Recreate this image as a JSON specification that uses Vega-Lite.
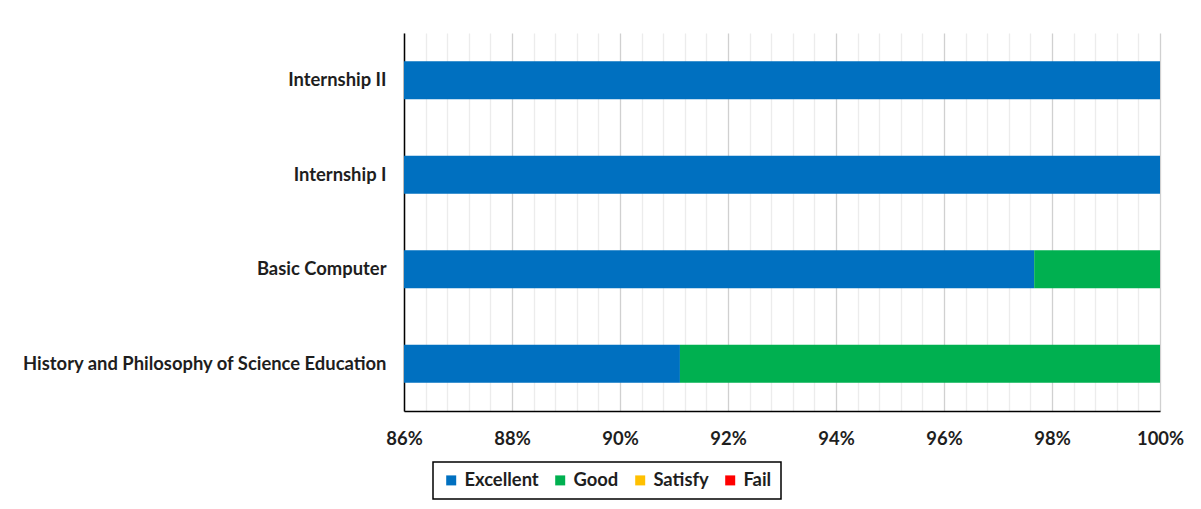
{
  "$schema": "https://vega.github.io/schema/vega-lite/v6.json",
  "width": 756,
  "height": 378,
  "autosize": {"type": "none"},
  "padding": {"left": 404, "top": 33, "right": 41, "bottom": 98},
  "background": "white",
  "config": {"view": {"stroke": null}, "font": "Lato", "legend": {"strokeWidth": 1.5}},
  "data": {
    "values": [
      {"course": "Internship II", "level": "Excellent", "share": 1.0, "rank": 1},
      {"course": "Internship I", "level": "Excellent", "share": 1.0, "rank": 1},
      {"course": "Basic Computer", "level": "Excellent", "share": 0.9767, "rank": 1},
      {"course": "Basic Computer", "level": "Good", "share": 0.0233, "rank": 2},
      {"course": "History and Philosophy of Science Education", "level": "Excellent", "share": 0.9111, "rank": 1},
      {"course": "History and Philosophy of Science Education", "level": "Good", "share": 0.0889, "rank": 2}
    ]
  },
  "mark": {"type": "bar", "clip": true},
  "encoding": {
    "y": {
      "field": "course",
      "type": "nominal",
      "sort": ["Internship II", "Internship I", "Basic Computer", "History and Philosophy of Science Education"],
      "scale": {"paddingInner": 0.6, "paddingOuter": 0.3},
      "axis": {
        "title": null,
        "ticks": false,
        "domainColor": "#000000",
        "domainWidth": 1.5,
        "labelFont": "Lato",
        "labelFontWeight": "bold",
        "labelFontSize": 18.4,
        "labelColor": "#1e1e1e",
        "labelPadding": 18,
        "labelLimit": 500
      }
    },
    "x": {
      "field": "share",
      "type": "quantitative",
      "stack": "zero",
      "scale": {"domain": [0.86, 1.0], "nice": false, "zero": false},
      "axis": {
        "title": null,
        "values": [0.86, 0.864, 0.868, 0.872, 0.876, 0.88, 0.884, 0.888, 0.892, 0.896, 0.9, 0.904, 0.908, 0.912, 0.916, 0.92, 0.924, 0.928, 0.932, 0.936, 0.94, 0.944, 0.948, 0.952, 0.956, 0.96, 0.964, 0.968, 0.972, 0.976, 0.98, 0.984, 0.988, 0.992, 0.996, 1.0],
        "labelExpr": "abs(datum.value * 50 - round(datum.value * 50)) < 0.001 ? format(datum.value, '.0%') : ''",
        "labelOverlap": false,
        "labelFlush": false,
        "ticks": false,
        "grid": true,
        "gridColor": {"condition": {"test": "abs(datum.value * 50 - round(datum.value * 50)) < 0.001", "value": "#d0d0d0"}, "value": "#ececec"},
        "gridWidth": 1.3,
        "domainColor": "#000000",
        "domainWidth": 1.5,
        "labelFont": "Lato",
        "labelFontWeight": "bold",
        "labelFontSize": 18.4,
        "labelColor": "#1e1e1e",
        "labelPadding": 18
      }
    },
    "color": {
      "field": "level",
      "type": "nominal",
      "scale": {
        "domain": ["Excellent", "Good", "Satisfy", "Fail"],
        "range": ["#0070C0", "#00B050", "#FFC000", "#FF0000"]
      },
      "legend": {
        "title": null,
        "orient": "none",
        "legendX": 29,
        "legendY": 429,
        "direction": "horizontal",
        "columns": 4,
        "symbolType": "square",
        "symbolSize": 100,
        "symbolStrokeWidth": 0,
        "labelFont": "Lato",
        "labelFontWeight": "bold",
        "labelFontSize": 18.4,
        "labelColor": "#1e1e1e",
        "labelOffset": 4,
        "columnPadding": 12,
        "padding": 9,
        "strokeColor": "#000000",
        "fillColor": "white"
      }
    },
    "order": {"field": "rank", "type": "quantitative"}
  }
}
